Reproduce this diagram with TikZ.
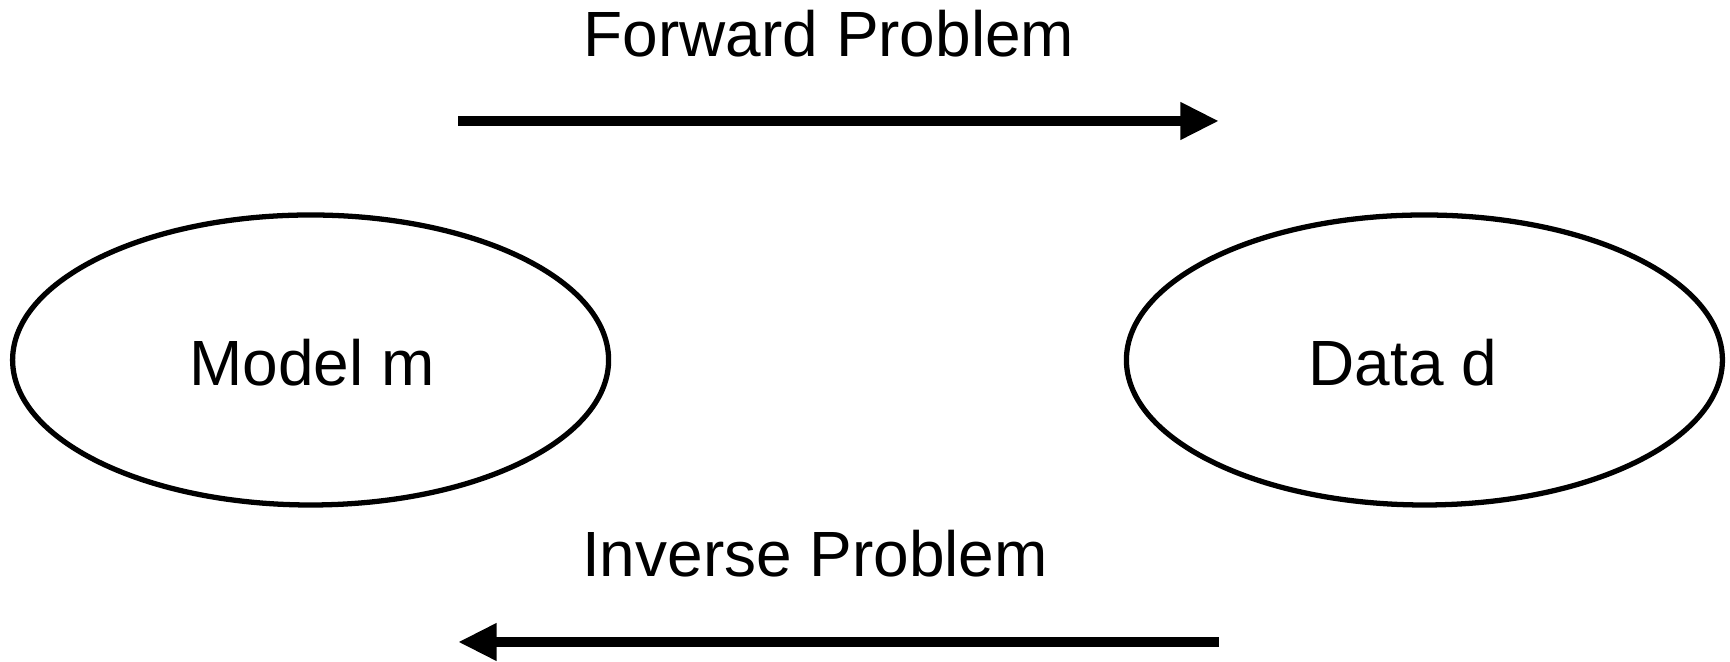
\documentclass[tikz,border=0pt]{standalone}
\usepackage{fontspec}
\setmainfont{Liberation Sans}
\usetikzlibrary{shapes.geometric,arrows.meta}
\begin{document}
\begin{tikzpicture}
    \tikzstyle{every node}+=[inner sep=0pt]
    \tikzstyle{blob}=[draw=black, ellipse, line width=1.5pt, minimum width=5.96cm, minimum height=2.9cm]
    \tikzstyle{lbl}=[anchor=base, font=\fontsize{18.2}{22}\selectfont]
    \tikzstyle{bigarrow}=[black, line width=2.9pt, -{Triangle[length=11pt, width=10pt]}]
    \useasboundingbox (0,0) rectangle (17.3,6.62);
    \node [blob] (model) at (3.106,3.02) {};
    \node [lbl] (modeltxt) at (3.12,2.76) {Model m};
    \node [blob] (data) at (14.244,3.02) {};
    \node [lbl] (datatxt) at (14.03,2.76) {Data d};
    \node [lbl] (fwd) at (8.29,6.05) {Forward Problem};
    \node [lbl] (inv) at (8.15,0.85) {Inverse Problem};
    \coordinate (fwdS) at (4.58,5.41);
    \coordinate (fwdE) at (12.19,5.41);
    \coordinate (invS) at (12.19,0.20);
    \coordinate (invE) at (4.58,0.20);
    \draw [bigarrow] (fwdS) -- (fwdE);
    \draw [bigarrow] (invS) -- (invE);
\end{tikzpicture}
\end{document}
